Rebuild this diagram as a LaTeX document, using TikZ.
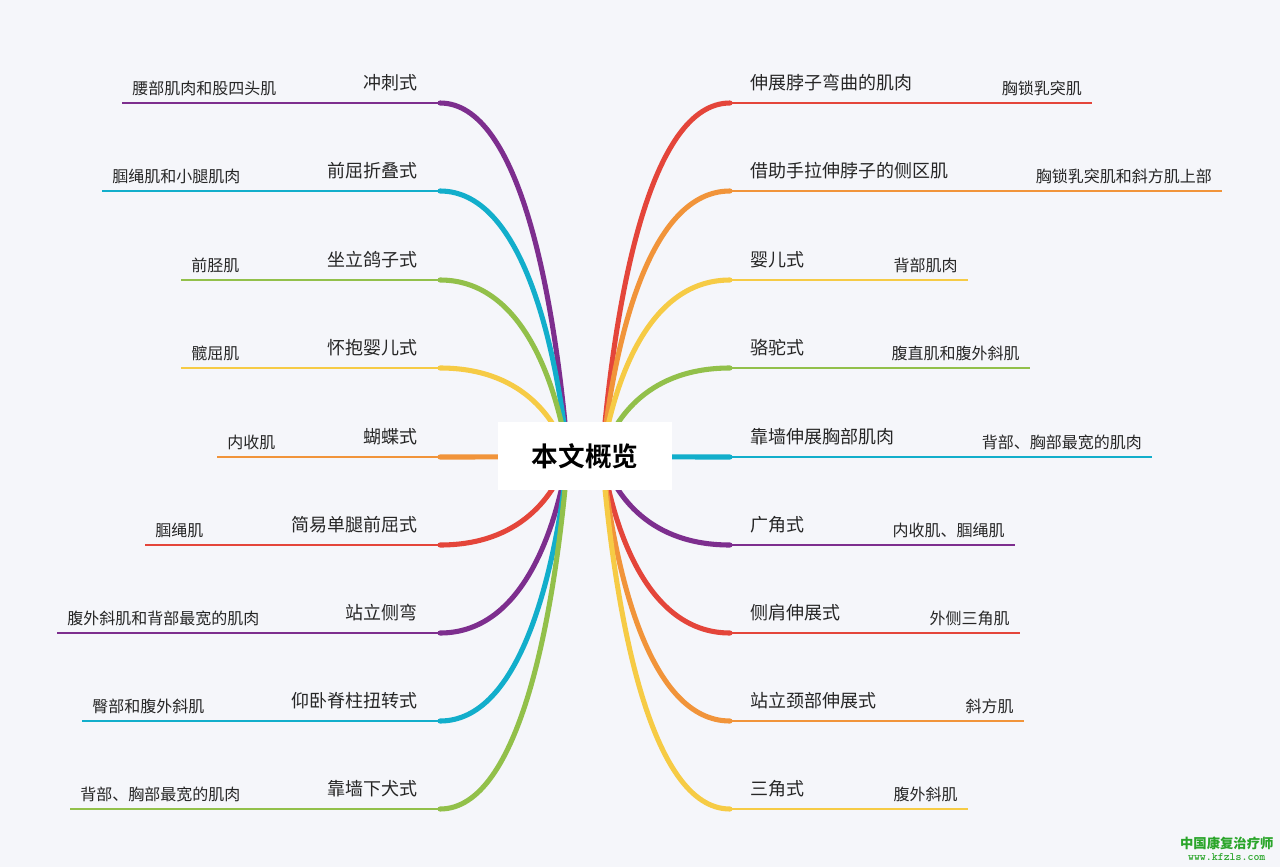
\documentclass[tikz,border=0pt]{standalone}
\usepackage{fontspec}
\setmainfont{Noto Sans CJK SC}
\newfontfamily\cjkb[BoldFont={Noto Sans CJK SC Bold}]{Noto Sans CJK SC}
\definecolor{bg}{HTML}{F5F6FA}
\definecolor{cpur}{HTML}{7D2E8E}
\definecolor{ccyan}{HTML}{12AECB}
\definecolor{cgreen}{HTML}{92C04A}
\definecolor{cyel}{HTML}{F6CB45}
\definecolor{cora}{HTML}{F1943A}
\definecolor{cred}{HTML}{E4453A}
\definecolor{wm}{HTML}{2AA52A}
\tikzset{main/.style={font=\fontsize{13.5pt}{15pt}\selectfont,text=black!85,inner sep=0pt},
 sub/.style={font=\fontsize{12pt}{14pt}\selectfont,text=black!85,inner sep=0pt},
 thin/.style={line width=1.4pt},
 fat/.style={line width=3.8pt,line cap=round}}
\begin{document}
\begin{tikzpicture}[x=0.75pt,y=-0.75pt]
\fill[bg] (0,0) rectangle (1280,867);
\useasboundingbox (0,0) rectangle (1280,867);
\coordinate (cl) at (568,456);
\coordinate (cr) at (602,456);
\foreach \y/\xs/\col/\m/\s/\n in {
103/122/cpur/冲刺式/腰部肌肉和股四头肌/l1,
191/102/ccyan/前屈折叠式/腘绳肌和小腿肌肉/l2,
280/181/cgreen/坐立鸽子式/前胫肌/l3,
368/181/cyel/怀抱婴儿式/髋屈肌/l4,
457/217/cora/蝴蝶式/内收肌/l5,
545/145/cred/简易单腿前屈式/腘绳肌/l6,
633/57/cpur/站立侧弯/腹外斜肌和背部最宽的肌肉/l7,
721/82/ccyan/仰卧脊柱扭转式/臀部和腹外斜肌/l8,
809/70/cgreen/靠墙下犬式/背部、胸部最宽的肌肉/l9}{
 \coordinate (\n e) at (440,\y);
 \coordinate (\n s) at (\xs,\y);
 \draw[\col,thin] (\n s) -- (\n e);
 \draw[\col,fat] (\n e) .. controls (520,\y) and (555,{456+(\y-456)*0.45}) .. (cl);
 \node[main,anchor=south east] (\n m) at (418,{\y-12}) {\m};
 \node[sub,anchor=south west] (\n t) at ({\xs+10},{\y-7}) {\s};
}
\foreach \y/\xe/\col/\m/\s/\n in {
103/1092/cred/伸展脖子弯曲的肌肉/胸锁乳突肌/r1,
191/1222/cora/借助手拉伸脖子的侧区肌/胸锁乳突肌和斜方肌上部/r2,
280/968/cyel/婴儿式/背部肌肉/r3,
368/1030/cgreen/骆驼式/腹直肌和腹外斜肌/r4,
457/1152/ccyan/靠墙伸展胸部肌肉/背部、胸部最宽的肌肉/r5,
545/1015/cpur/广角式/内收肌、腘绳肌/r6,
633/1020/cred/侧肩伸展式/外侧三角肌/r7,
721/1024/cora/站立颈部伸展式/斜方肌/r8,
809/968/cyel/三角式/腹外斜肌/r9}{
 \coordinate (\n e) at (730,\y);
 \coordinate (\n s) at (\xe,\y);
 \draw[\col,thin] (\n e) -- (\n s);
 \draw[\col,fat] (\n e) .. controls (650,\y) and (615,{456+(\y-456)*0.45}) .. (cr);
 \node[main,anchor=south west] (\n m) at (750,{\y-12}) {\m};
 \node[sub,anchor=south east] (\n t) at ({\xe-10},{\y-7}) {\s};
}
\node[fill=white,minimum width=130.5pt,minimum height=51pt,inner sep=0pt,
 font=\cjkb\bfseries\fontsize{20pt}{22pt}\selectfont] (center) at (585,456) {本文概览};
\node[font=\bfseries\fontsize{10pt}{11pt}\selectfont,text=wm,anchor=south east,align=center,inner sep=1pt] (wm) at (1275,862) {中国康复治疗师\\[-2pt]\fontsize{8.5pt}{9pt}\selectfont\ttfamily www.kfzls.com};
\end{tikzpicture}
\end{document}
